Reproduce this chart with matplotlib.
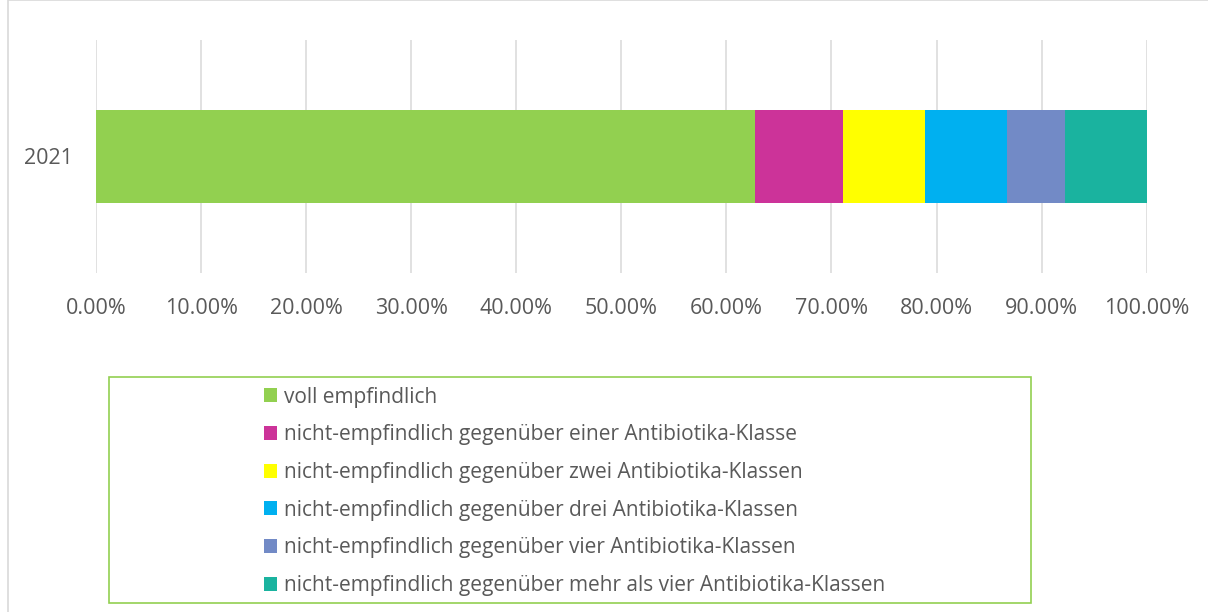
import matplotlib
matplotlib.use("Agg")
import matplotlib.pyplot as plt
from matplotlib.patches import Rectangle, Patch
from matplotlib.ticker import FuncFormatter

categories = ["2021"]
labels = [
    "voll empfindlich",
    "nicht-empfindlich gegenüber einer Antibiotika-Klasse",
    "nicht-empfindlich gegenüber zwei Antibiotika-Klassen",
    "nicht-empfindlich gegenüber drei Antibiotika-Klassen",
    "nicht-empfindlich gegenüber vier Antibiotika-Klassen",
    "nicht-empfindlich gegenüber mehr als vier Antibiotika-Klassen",
]
values = [62.73, 8.38, 7.80, 7.81, 5.52, 7.76]
colors = ["#92d050", "#cc3399", "#ffff00", "#00b0f0", "#728ac6", "#1ab39f"]
xticks = [0, 10, 20, 30, 40, 50, 60, 70, 80, 90, 100]

plt.rcParams['font.family'] = ['Open Sans', 'DejaVu Sans']
W, H = 1208, 612
fig = plt.figure(figsize=(W / 100, H / 100), dpi=100)

def fx(px):
    return px / W

def fy(py):
    return 1 - py / H

FS_TICK = 15.5
FS_LEG = 15

# outer chart border
fig.patches.append(Rectangle((fx(8), fy(700)), fx(1300), 700 / H, transform=fig.transFigure,
                             fill=False, edgecolor="#d9d9d9", linewidth=1.2))

ax = fig.add_axes([fx(96), fy(273), fx(1146.7) - fx(96), fy(40) - fy(273)])
left = 0
for v, c, lab in zip(values, colors, labels):
    ax.barh(categories, [v], left=left, height=0.4, color=c, label=lab, zorder=3)
    left += v

ax.set_xlim(0, 100)
ax.set_ylim(-0.5, 0.5)
ax.set_xticks(xticks)
ax.xaxis.set_major_formatter(FuncFormatter(lambda x, p: f"{x:.2f}%"))
ax.grid(axis="x", color="#d9d9d9", linewidth=1.1, zorder=0)
for s in ax.spines.values():
    s.set_visible(False)
ax.tick_params(axis="both", length=0, labelsize=FS_TICK, labelcolor="#595959")
ax.tick_params(axis="x", pad=18)
ax.tick_params(axis="y", pad=17)

# legend frame
fig.patches.append(Rectangle((fx(109), fy(603)), fx(1031) - fx(109), fy(377) - fy(603),
                             transform=fig.transFigure, fill=False, edgecolor="#92d050", linewidth=1.2))
handles = [Patch(facecolor=c, edgecolor="none") for c in colors]
leg = fig.legend(handles, labels, loc="upper left", bbox_to_anchor=(fx(247), fy(370)),
                 frameon=False, fontsize=FS_LEG, labelcolor="#595959",
                 handlelength=0.65, handleheight=0.65, handletextpad=0.35,
                 labelspacing=0.80, borderpad=0.3)

fig.savefig("out.png", dpi=100)
